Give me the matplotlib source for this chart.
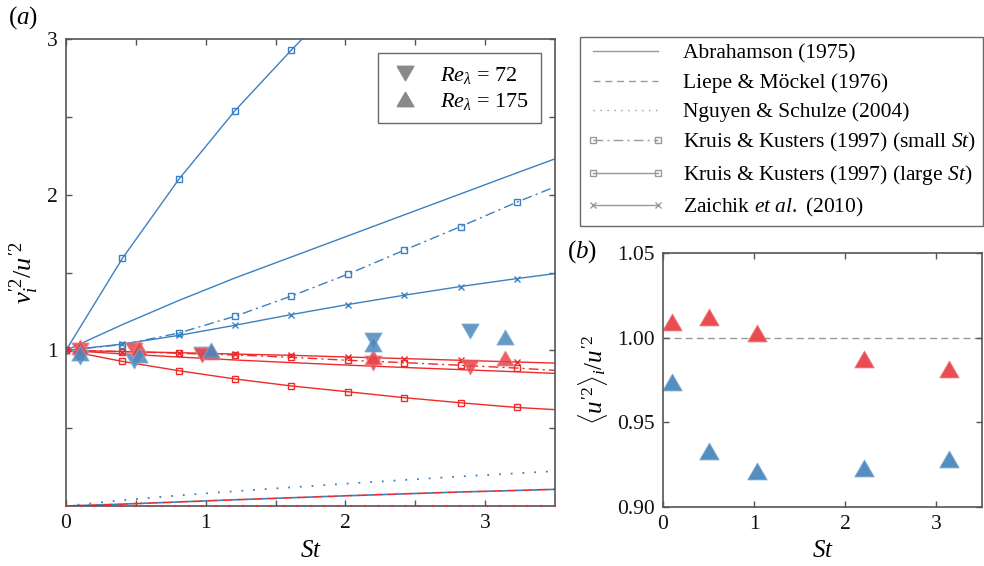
import matplotlib
matplotlib.use("Agg")
import matplotlib.pyplot as plt
from matplotlib.lines import Line2D

plt.rcParams['font.family'] = ['Liberation Serif', 'DejaVu Serif']
plt.rcParams['mathtext.fontset'] = 'custom'
plt.rcParams['mathtext.rm'] = 'Liberation Serif'
plt.rcParams['mathtext.it'] = 'Liberation Serif:italic'
plt.rcParams['mathtext.bf'] = 'Liberation Serif:bold'

# ---------------- data ----------------
st_grid = [0.0, 0.403, 0.807, 1.21, 1.614, 2.017, 2.42, 2.824, 3.227, 3.5]

abr_blue = [1.0, 1.165, 1.32, 1.465, 1.60, 1.735, 1.87, 2.005, 2.14, 2.23]
kk_small_blue = [1.0, 1.037, 1.111, 1.219, 1.349, 1.489, 1.643, 1.795, 1.952, 2.05]
kk_large_blue = [1.0, 1.59, 2.098, 2.54, 2.93, 3.30]
zai_blue = [1.0, 1.04, 1.096, 1.161, 1.23, 1.294, 1.354, 1.41, 1.461, 1.493]

abr_red = [1.0, 0.977, 0.957, 0.938, 0.921, 0.905, 0.89, 0.876, 0.862, 0.852]
kk_small_red = [1.0, 0.992, 0.981, 0.970, 0.955, 0.936, 0.921, 0.904, 0.886, 0.871]
kk_large_red = [1.0, 0.929, 0.869, 0.816, 0.771, 0.734, 0.696, 0.663, 0.633, 0.619]
zai_red = [1.0, 0.992, 0.985, 0.976, 0.968, 0.957, 0.947, 0.936, 0.925, 0.918]

liepe = [0.0, 0.012, 0.026, 0.04, 0.053, 0.066, 0.078, 0.09, 0.1, 0.107]
nguyen_blue = [0.0, 0.037, 0.068, 0.095, 0.12, 0.144, 0.167, 0.19, 0.21, 0.224]
nguyen_red = [0.0] * 10

re72_st = [0.10, 0.49, 0.97, 2.2, 2.89]
re72_blue = [0.955, 0.93, 0.975, 1.065, 1.122]
re72_red = [1.005, 1.0, 0.97, 0.921, 0.891]
re175_st = [0.10, 0.52, 1.04, 2.2, 3.14]
re175_blue = [0.985, 0.97, 1.0, 1.04, 1.086]
re175_red = [1.02, 1.012, 0.99, 0.957, 0.951]

b_st = [0.1, 0.51, 1.03, 2.2, 3.14]
b_red = [1.009, 1.012, 1.0026, 0.9874, 0.9817]
b_blue = [0.9737, 0.933, 0.9211, 0.923, 0.9282]

legend_labels = ["Abrahamson (1975)", "Liepe & Möckel (1976)", "Nguyen & Schulze (2004)",
                 r"Kruis & Kusters (1997) (small $St$)", r"Kruis & Kusters (1997) (large $St$)",
                 r"Zaichik $et\ al.$ (2010)"]

# ---------------- style ----------------
BLUE = '#3b80c2'
RED = '#ee2a2a'
TBLUE = '#4a88bd'
TRED = '#e8434a'
GRAY = '#999999'
SPINE = '#555555'
FS = 15.5

TRI_UP = [(-1, -0.866), (1, -0.866), (0, 0.866), (-1, -0.866)]
TRI_DN = [(-1, 0.866), (1, 0.866), (0, -0.866), (-1, 0.866)]

DASHDOT = (0, (7, 3, 1.5, 3))

fig = plt.figure(figsize=(9.84, 5.66), dpi=100)
ax1 = fig.add_axes([66/984, 1-506/566, (555-66)/984, (506-39)/566])
ax2 = fig.add_axes([663/984, 1-507/566, (982-663)/984, (507-253)/566])

lw = 1.0
ms_sq = 5
# bottom curves
ax1.plot(st_grid, liepe, color=BLUE, lw=1.2, linestyle=(0, (5, 4)))
ax1.plot(st_grid, liepe, color=RED, lw=1.2, linestyle=(4.5, (5, 4)))
ax1.plot(st_grid, nguyen_blue, color=BLUE, lw=1.3, linestyle=(0, (1, 5.5)))
ax1.plot(st_grid, nguyen_red, color=RED, lw=1.5, linestyle=(0, (1, 5.5)), clip_on=False, zorder=3)

# blue curves
ax1.plot(st_grid, abr_blue, color=BLUE, lw=lw)
ax1.plot(st_grid, kk_small_blue, color=BLUE, lw=lw, linestyle=DASHDOT, marker='s', ms=ms_sq,
         mfc='none', mew=1.0, markevery=slice(0, 9))
ax1.plot(st_grid[:len(kk_large_blue)], kk_large_blue, color=BLUE, lw=lw, marker='s', ms=ms_sq,
         mfc='none', mew=1.0, markevery=slice(0, 5))
ax1.plot(st_grid, zai_blue, color=BLUE, lw=lw, marker='x', ms=5, mew=1.0, markevery=slice(0, 9))

# red curves
ax1.plot(st_grid, abr_red, color=RED, lw=lw)
ax1.plot(st_grid, kk_small_red, color=RED, lw=lw, linestyle=DASHDOT, marker='s', ms=ms_sq,
         mfc='none', mew=1.0, markevery=slice(0, 9))
ax1.plot(st_grid, kk_large_red, color=RED, lw=lw, marker='s', ms=ms_sq,
         mfc='none', mew=1.0, markevery=slice(0, 9))
ax1.plot(st_grid, zai_red, color=RED, lw=lw, marker='x', ms=5, mew=1.0, markevery=slice(0, 9))

# data triangles
tri_ms = 12.5
kw = dict(linestyle='none', alpha=0.85, mew=0.6, zorder=5)
ax1.plot(re72_st, re72_blue, marker=TRI_DN, ms=tri_ms, mfc=TBLUE, mec='#7fa9d0', **kw)
ax1.plot(re72_st, re72_red, marker=TRI_DN, ms=tri_ms, mfc=TRED, mec='#f08a8a', **kw)
ax1.plot(re175_st, re175_red, marker=TRI_UP, ms=tri_ms, mfc=TRED, mec='#f08a8a', **kw)
ax1.plot(re175_st, re175_blue, marker=TRI_UP, ms=tri_ms, mfc=TBLUE, mec='#7fa9d0', **kw)

ax1.set_xlim(0, 3.5)
ax1.set_ylim(0, 3)
ax1.set_xticks([0, 0.5, 1, 1.5, 2, 2.5, 3])
ax1.set_xticklabels(['0', '', '1', '', '2', '', '3'])
ax1.set_yticks([0.5, 1, 1.5, 2, 2.5, 3])
ax1.set_yticklabels(['', '1', '', '2', '', '3'])
ax1.set_xlabel(r'$St$', fontsize=18, labelpad=5)
ax1.set_ylabel(r'$v_{i}^{\prime 2}/u^{\prime 2}$', fontsize=19, labelpad=4)

h72 = Line2D([], [], linestyle='none', marker=TRI_DN, ms=12, mfc='#8a8a8a', mec='#8a8a8a')
h175 = Line2D([], [], linestyle='none', marker=TRI_UP, ms=12, mfc='#8a8a8a', mec='#8a8a8a')
leg1 = ax1.legend([h72, h175], [r'$Re_{\lambda}$ = 72', r'$Re_{\lambda}$ = 175'], loc='upper right',
                  fontsize=16, frameon=True, fancybox=False, edgecolor='#444444', borderaxespad=0.65,
                  handlelength=1.4, handletextpad=0.9, labelspacing=0.25, borderpad=0.5)
leg1.get_frame().set_linewidth(1.0)

# panel b
ax2.axhline(1.0, color=GRAY, lw=1.0, linestyle=(0, (5, 3)), zorder=1)
ax2.plot(b_st, b_red, marker=TRI_UP, ms=14, linestyle='none', mfc=TRED, mec='#f07a7a', mew=0.6, alpha=0.95)
ax2.plot(b_st, b_blue, marker=TRI_UP, ms=14, linestyle='none', mfc=TBLUE, mec='#7fa9d0', mew=0.6, alpha=0.95)
ax2.set_xlim(0, 3.5)
ax2.set_ylim(0.90, 1.05)
ax2.set_xticks([0, 1, 2, 3])
ax2.set_yticks([0.90, 0.95, 1.00, 1.05])
ax2.set_yticklabels(['0.90', '0.95', '1.00', '1.05'])
ax2.set_xlabel(r'$St$', fontsize=18, labelpad=4)
ax2.set_ylabel(r'$\langle u^{\prime 2}\rangle_{i}/u^{\prime 2}$', fontsize=18, labelpad=5)

for ax in (ax1, ax2):
    ax.tick_params(direction='in', top=True, right=True, labelsize=FS, length=4, width=1.0,
                   color=SPINE, labelcolor='#111111', pad=6)
    for s in ax.spines.values():
        s.set_color(SPINE)
        s.set_linewidth(1.2)

# figure legend
handles = [
    Line2D([], [], color=GRAY, lw=1.0),
    Line2D([], [], color=GRAY, lw=1.0, linestyle=(0, (5, 3.5))),
    Line2D([], [], color=GRAY, lw=1.0, linestyle=(0, (1, 4))),
    Line2D([], [], color=GRAY, lw=1.0, linestyle=DASHDOT, marker='s', ms=4.5, mfc='none'),
    Line2D([], [], color=GRAY, lw=1.0, marker='s', ms=4.5, mfc='none'),
    Line2D([], [], color=GRAY, lw=1.0, marker='x', ms=4.5),
]
leg = fig.legend(handles, legend_labels, loc='upper left', bbox_to_anchor=(580/984, 1-37/566),
                 fontsize=FS, frameon=True, fancybox=False, edgecolor='#444444', numpoints=2,
                 handlelength=3.6, handletextpad=0.85, labelspacing=0.42, borderpad=0.32,
                 borderaxespad=0.0)
leg.get_frame().set_linewidth(1.0)

fig.text(8/984, 1-18/566, r'($a$)', fontsize=18, va='center', ha='left')
fig.text(567/984, 1-252/566, r'($b$)', fontsize=18, va='center', ha='left')

fig.savefig('out.png', dpi=100)
